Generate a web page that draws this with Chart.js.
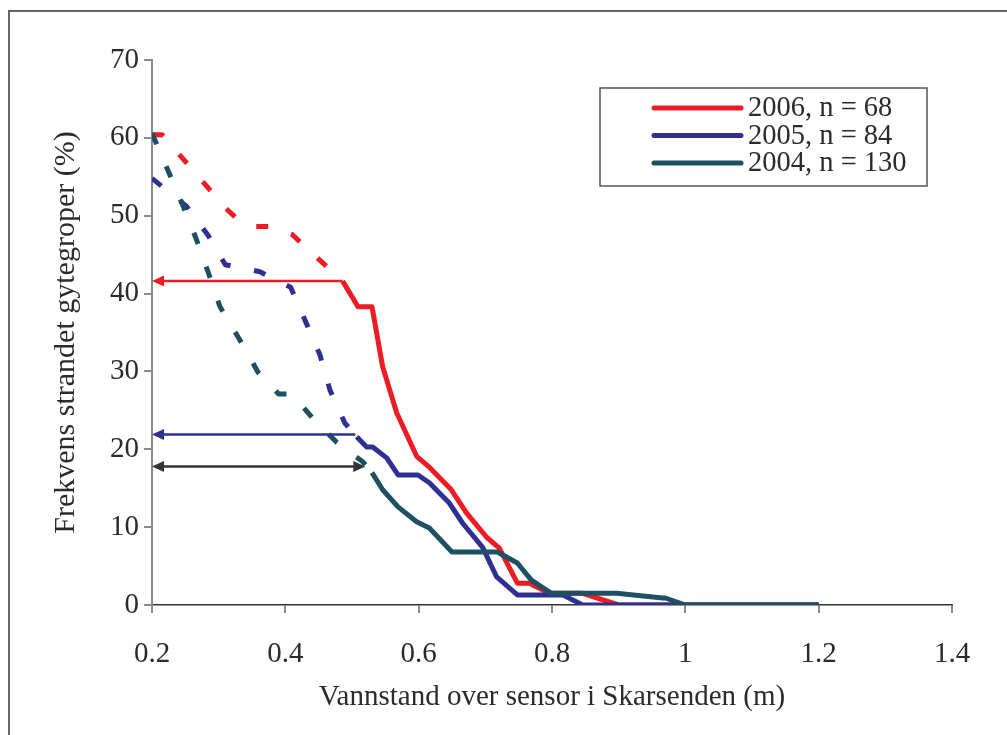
<!DOCTYPE html>
<html>
<head>
<meta charset="utf-8">
<script src="https://cdn.jsdelivr.net/npm/chart.js@4"></script>
<style>
  html, body { margin: 0; padding: 0; background: #fff; overflow: hidden; }
  #frame { position: absolute; left: 8px; top: 10px; width: 1100px; height: 800px;
           border-left: 2px solid #666; border-top: 2px solid #666; }
  #wrap { position: absolute; left: 0; top: 0; width: 1007px; height: 735px; }
</style>
</head>
<body>
<div id="frame"></div>
<div id="wrap"><canvas id="chart" width="1007" height="735"></canvas></div>
<script>
// water level (m) and share of stranded nests (%) per year
const x2006 = [0.2, 0.215, 0.26, 0.31, 0.33, 0.35, 0.38, 0.41, 0.43, 0.486, 0.509, 0.53, 0.546, 0.567, 0.597, 0.616, 0.649, 0.672, 0.702, 0.721, 0.748, 0.766, 0.796, 0.846, 0.9, 1.2];
const y2006 = [60.4, 60.4, 56, 51, 49.4, 48.6, 48.6, 47.6, 46, 41.6, 38.3, 38.3, 30.6, 24.7, 19.1, 17.7, 14.8, 11.8, 8.7, 7.3, 2.8, 2.8, 1.5, 1.5, 0, 0];

const x2005 = [0.2, 0.252, 0.284, 0.31, 0.362, 0.408, 0.431, 0.452, 0.467, 0.489, 0.507, 0.522, 0.531, 0.552, 0.569, 0.599, 0.616, 0.646, 0.666, 0.696, 0.717, 0.748, 0.816, 0.846, 1.2];
const y2005 = [54.8, 51.2, 47.5, 43.7, 42.8, 40.8, 36.3, 32.1, 27.6, 23.4, 21.6, 20.3, 20.3, 18.9, 16.7, 16.7, 15.7, 13.1, 10.5, 7.4, 3.6, 1.3, 1.3, 0, 0];

const x2004 = [0.2, 0.245, 0.266, 0.284, 0.302, 0.332, 0.359, 0.39, 0.41, 0.44, 0.477, 0.516, 0.53, 0.546, 0.569, 0.597, 0.616, 0.65, 0.718, 0.748, 0.769, 0.799, 0.897, 0.966, 0.97, 1.0, 1.2];
const y2004 = [60.6, 51.6, 47.1, 42.8, 38.3, 34.0, 29.9, 27.1, 27.1, 24.1, 20.9, 18.4, 17.0, 14.8, 12.6, 10.7, 9.9, 6.8, 6.8, 5.4, 3.2, 1.5, 1.5, 0.9, 0.9, 0, 0];

const seriesLabels = ['2006, n = 68', '2005, n = 84', '2004, n = 130'];
// dashed (extrapolated) part ends at this water level
const dashEnds = [0.486, 0.507, 0.53];
// horizontal arrows: level (%) and right end (m)
const arrowLevels = [41.6, 21.9, 17.8];
const arrowEnds = [0.486, 0.505, 0.52];

const RED = 'rgb(237,28,36)';
const BLUE = 'rgb(46,49,146)';
const TEAL = 'rgb(29,80,99)';
const TEXT = '#2b2b2b';
const FONT = 'Liberation Serif';

function toPoints(xs, ys) {
    let pts = [];
    for (let i = 0; i < xs.length; i++) {
        pts.push({x: xs[i], y: ys[i]});
    }
    return pts;
}

function makeLine(i, xs, ys, color, order) {
    return {
        label: seriesLabels[i],
        data: toPoints(xs, ys),
        borderColor: color,
        backgroundColor: color,
        borderWidth: 5,
        pointRadius: 0,
        tension: 0,
        borderCapStyle: 'butt',
        borderJoinStyle: 'round',
        order: order,
        segment: {
            borderDash: ctx => ctx.p1.parsed.x <= dashEnds[i] + 1e-9 ? [12, 24] : undefined
        }
    };
}

const arrowPlugin = {
    id: 'arrows',
    afterDatasetsDraw(chart) {
        const c = chart.ctx;
        const xs = chart.scales.x, ys = chart.scales.y;
        const colors = [RED, BLUE, '#333'];
        for (let i = 0; i < arrowLevels.length; i++) {
            const x1 = xs.getPixelForValue(0.2);
            const x2 = xs.getPixelForValue(arrowEnds[i]);
            const y = ys.getPixelForValue(arrowLevels[i]);
            c.save();
            c.strokeStyle = colors[i];
            c.fillStyle = colors[i];
            c.lineWidth = 2.5;
            c.beginPath();
            c.moveTo(x1 + 8, y);
            c.lineTo(i === 2 ? x2 - 8 : x2, y);
            c.stroke();
            c.beginPath();
            c.moveTo(x1, y);
            c.lineTo(x1 + 12, y - 5.5);
            c.lineTo(x1 + 12, y + 5.5);
            c.closePath();
            c.fill();
            if (i === 2) {
                c.beginPath();
                c.moveTo(x2, y);
                c.lineTo(x2 - 12, y - 5.5);
                c.lineTo(x2 - 12, y + 5.5);
                c.closePath();
                c.fill();
            }
            c.restore();
        }
    }
};

const legendPlugin = {
    id: 'boxLegend',
    afterDraw(chart) {
        const c = chart.ctx;
        c.save();
        c.strokeStyle = '#555';
        c.lineWidth = 1.5;
        c.strokeRect(600, 88, 327, 98);
        c.font = '28.5px "' + FONT + '"';
        c.textBaseline = 'middle';
        c.fillStyle = TEXT;
        chart.data.datasets.forEach((ds, i) => {
            const y = 108 + i * 27.5;
            c.strokeStyle = ds.borderColor;
            c.lineWidth = 5;
            c.lineCap = 'round';
            c.beginPath();
            c.moveTo(654, y);
            c.lineTo(741, y);
            c.stroke();
            c.fillText(ds.label, 748, y + 1);
        });
        c.restore();
    }
};

const ctx = document.getElementById('chart').getContext('2d');
const chart = new Chart(ctx, {
    type: 'line',
    data: {
        datasets: [
            makeLine(0, x2006, y2006, RED, 2),
            makeLine(1, x2005, y2005, BLUE, 1),
            makeLine(2, x2004, y2004, TEAL, 0)
        ]
    },
    options: {
        responsive: false,
        animation: false,
        layout: {padding: {left: 48, right: 55, top: 60, bottom: 20}},
        plugins: {legend: {display: false}, tooltip: {enabled: false}},
        scales: {
            x: {
                type: 'linear',
                min: 0.2,
                max: 1.4,
                afterFit: s => { s.height = 110; },
                ticks: {
                    stepSize: 0.2,
                    padding: 24,
                    color: TEXT,
                    font: {family: FONT, size: 29},
                    callback: v => String(Math.round(v * 10) / 10)
                },
                grid: {drawOnChartArea: false, drawTicks: true, tickLength: 8, color: '#8a8a8a', lineWidth: 2},
                border: {display: true, color: '#333', width: 1.5},
                title: {display: true, text: 'Vannstand over sensor i Skarsenden (m)', color: TEXT,
                        font: {family: FONT, size: 29}, padding: 0}
            },
            y: {
                min: 0,
                max: 70,
                afterFit: s => { s.width = 104; },
                ticks: {
                    stepSize: 10,
                    padding: 5,
                    color: TEXT,
                    font: {family: FONT, size: 29}
                },
                grid: {drawOnChartArea: false, drawTicks: true, tickLength: 8, color: '#8a8a8a', lineWidth: 2},
                border: {display: true, color: '#8a8a8a', width: 2},
                title: {display: true, text: 'Frekvens strandet gytegroper (%)', color: TEXT,
                        font: {family: FONT, size: 30}, padding: 0}
            }
        }
    },
    plugins: [arrowPlugin, legendPlugin]
});
</script>
</body>
</html>
